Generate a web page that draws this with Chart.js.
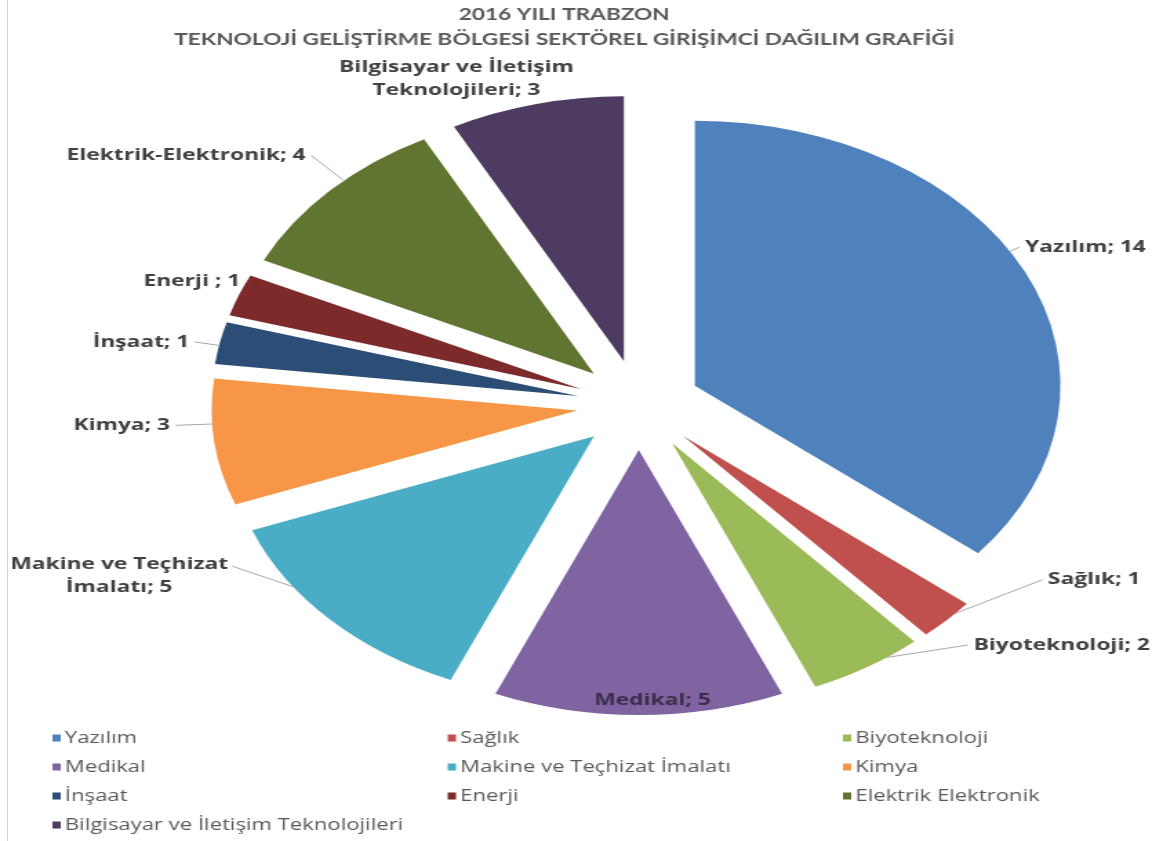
<!DOCTYPE html>
<html>
<head>
<meta charset="utf-8">
<title>2016 Trabzon TGB</title>
<script src="https://cdn.jsdelivr.net/npm/chart.js@4.4.0/dist/chart.umd.min.js"></script>
<style>
  html, body { margin: 0; padding: 0; background: #fff; overflow: hidden; }
  #frame { position: absolute; left: 7px; top: 0; width: 1px; height: 841px; background: #d4d4d4; }
  /* the reference picture is stretched sideways, so the whole chart is too */
  #pie { position: absolute; left: 0; top: 0; width: 843px; height: 841px; transform: scaleX(1.3796); transform-origin: 0 0; }
</style>
</head>
<body>
<div id="frame"></div>
<canvas id="pie" width="843" height="841"></canvas>
<script>
var categories = ['Yazılım', 'Sağlık', 'Biyoteknoloji', 'Medikal', 'Makine ve Teçhizat İmalatı', 'Kimya', 'İnşaat', 'Enerji', 'Elektrik Elektronik', 'Bilgisayar ve İletişim Teknolojileri'];
var labelNames = ['Yazılım', 'Sağlık', 'Biyoteknoloji', 'Medikal', 'Makine ve Teçhizat\nİmalatı', 'Kimya', 'İnşaat', 'Enerji ', 'Elektrik-Elektronik', 'Bilgisayar ve İletişim\nTeknolojileri'];
var values = [14, 1, 2, 5, 5, 3, 1, 1, 4, 3];
var sliceColors = ['#4f81bd', '#c0504d', '#9bbb59', '#8064a2', '#4bacc6', '#f79646', '#2c4d75', '#7d2b2a', '#5f7530', '#4d3b62'];
var titleLines = ['2016 YILI TRABZON', 'TEKNOLOJİ GELİŞTİRME BÖLGESİ SEKTÖREL GİRİŞİMCİ DAĞILIM GRAFİĞİ'];

// where each data label sits, relative to the outer edge of its slice
var labelPlacement = [
    {dx: 0, dy: -25, align: 'left', leader: true},
    {dx: 73, dy: -40, align: 'left', leader: true},
    {dx: 77, dy: -22, align: 'left', leader: true},
    {dx: 10, dy: -15, align: 'center', leader: false, color: '#3a2e4a'},
    {dx: -153, dy: -44, align: 'center', leader: true},
    {dx: -32, dy: -17, align: 'right', leader: true},
    {dx: -22, dy: -1, align: 'right', leader: true},
    {dx: 1, dy: -14, align: 'right', leader: false},
    {dx: -18, dy: -35, align: 'right', leader: true},
    {dx: -58, dy: -25, align: 'center', leader: false}
];

var LABEL_FONT = 'bold 16.5px "Open Sans", sans-serif';
var LEGEND_FONT = '16px "Open Sans", sans-serif';
var TITLE_FONT = 'bold 16.4px Lato, sans-serif';

function drawLabels(chart) {
    var ctx = chart.ctx;
    var arcs = chart.getDatasetMeta(0).data;
    ctx.save();
    ctx.font = LABEL_FONT;
    ctx.textBaseline = 'middle';
    arcs.forEach(function (arc, i) {
        var p = labelPlacement[i];
        var mid = (arc.startAngle + arc.endAngle) / 2;
        var off = (arc.options.offset || 0) / 4;
        var ax = arc.x + Math.cos(mid) * off;
        var ay = arc.y + Math.sin(mid) * off;
        var r = arc.outerRadius;
        var tx = ax + Math.cos(mid) * r + p.dx;
        var ty = ay + Math.sin(mid) * r + p.dy;
        var lines = (labelNames[i] + '; ' + values[i]).split('\n');
        var lh = 23;
        var y0 = ty - (lines.length - 1) * lh / 2;

        if (p.leader) {
            var ex, ey;
            if (p.align === 'left') { ex = tx - 4; ey = ty; }
            else if (p.align === 'right') { ex = tx + 4; ey = ty; }
            else { ex = tx + ctx.measureText(lines[0]).width / 2 + 3; ey = y0 + 2; }
            var a = Math.atan2(ey - ay, ex - ax);
            if (a < -Math.PI / 2) a += Math.PI * 2;
            var m = (arc.endAngle - arc.startAngle) * 0.3;
            a = Math.min(Math.max(a, arc.startAngle + m), arc.endAngle - m);
            ctx.beginPath();
            ctx.moveTo(ax + Math.cos(a) * r, ay + Math.sin(a) * r);
            ctx.lineTo(ex, ey);
            ctx.strokeStyle = '#a6a6a6';
            ctx.lineWidth = 1;
            ctx.stroke();
        }

        ctx.fillStyle = p.color || '#404040';
        ctx.textAlign = p.align;
        lines.forEach(function (s, k) {
            ctx.fillText(s, tx, y0 + k * lh);
        });
    });
    ctx.restore();
}

function drawTitle(chart) {
    var ctx = chart.ctx;
    ctx.save();
    ctx.font = TITLE_FONT;
    ctx.fillStyle = '#595959';
    ctx.textAlign = 'center';
    ctx.textBaseline = 'middle';
    titleLines.forEach(function (s, k) {
        ctx.fillText(s, 409, 15 + k * 25);
    });
    ctx.restore();
}

function drawLegend(chart) {
    var ctx = chart.ctx;
    var cols = 3, left = 38, colStep = 286.5, top = 738, rowStep = 29;
    ctx.save();
    ctx.font = LEGEND_FONT;
    ctx.textBaseline = 'middle';
    ctx.textAlign = 'left';
    categories.forEach(function (name, i) {
        var x = left + (i % cols) * colStep;
        var y = top + Math.floor(i / cols) * rowStep;
        ctx.fillStyle = sliceColors[i];
        ctx.fillRect(x, y - 3.5, 6, 7);
        ctx.fillStyle = '#595959';
        ctx.fillText(name, x + 9, y);
    });
    ctx.restore();
}

// Chart.js grows and narrows exploded slices depending on their angle;
// undo that so every slice keeps the same radius and its full angle
var excelPie = {
    id: 'excelPie',
    beforeDatasetsDraw: function (chart) {
        chart.getDatasetMeta(0).data.forEach(function (arc) {
            var off = (arc.options.offset || 0) / 4;
            var fix = 1 - Math.sin(Math.min(Math.PI, arc.circumference));
            var grow = off * fix;
            var widen = grow / (Math.PI * arc.outerRadius) / 2;
            arc._keep = [arc.outerRadius, arc.startAngle, arc.endAngle];
            arc.outerRadius = arc.outerRadius - grow;
            arc.startAngle -= widen;
            arc.endAngle += widen;
        });
    },
    afterDatasetsDraw: function (chart) {
        chart.getDatasetMeta(0).data.forEach(function (arc) {
            arc.outerRadius = arc._keep[0];
            arc.startAngle = arc._keep[1];
            arc.endAngle = arc._keep[2];
        });
        drawLabels(chart);
    },
    afterDraw: function (chart) {
        drawTitle(chart);
        drawLegend(chart);
    }
};

var ctx = document.getElementById('pie');
var myChart = new Chart(ctx, {
    type: 'pie',
    data: {
        labels: categories,
        datasets: [{
            data: values,
            backgroundColor: sliceColors,
            borderWidth: 0,
            offset: 180,
            hoverOffset: 0
        }]
    },
    options: {
        responsive: false,
        animation: false,
        events: [],
        layout: {padding: {top: 50, bottom: 81, left: 108, right: 25}},
        plugins: {
            legend: {display: false},
            title: {display: false},
            tooltip: {enabled: false}
        }
    },
    plugins: [excelPie]
});
</script>
</body>
</html>
